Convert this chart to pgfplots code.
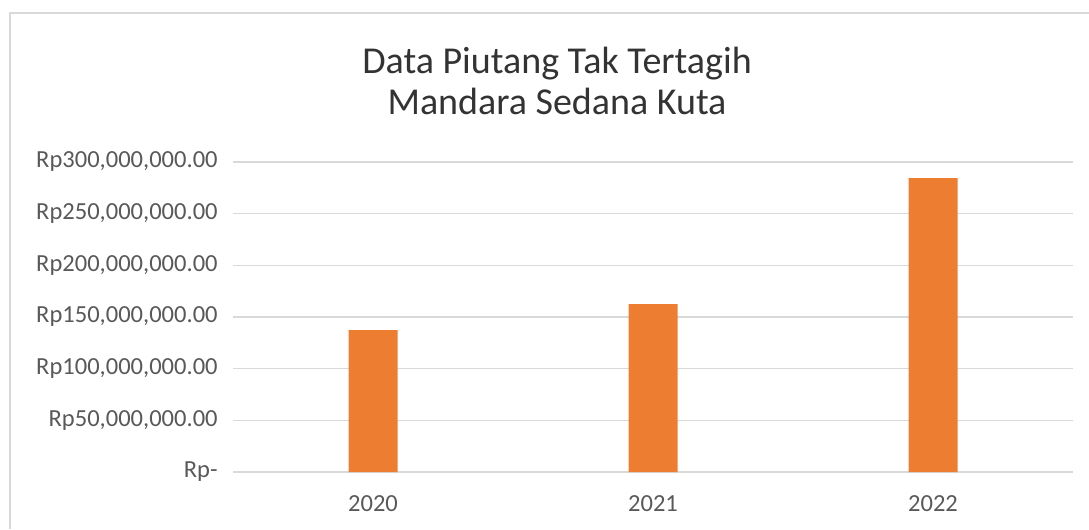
\documentclass[border=0pt]{standalone}
\usepackage{pgfplots}
\pgfplotsset{compat=1.18}
\usepackage{fontspec}
\setmainfont{Carlito}
\definecolor{barorange}{HTML}{ED7D31}
\definecolor{gridgray}{HTML}{D9D9D9}
\definecolor{textgray}{HTML}{595959}
\begin{document}
\begin{tikzpicture}
\useasboundingbox (0,0) rectangle (816.75pt,-396.75pt);
\draw[gridgray, line width=1.2pt] (7.5pt,-396.75pt) -- (7.5pt,-9.75pt) -- (816.75pt,-9.75pt);
\node[anchor=base, font=\fontsize{28.5}{34}\selectfont, text=black!80] at (417.75pt,-54.75pt) {Data Piutang Tak Tertagih};
\node[anchor=base, font=\fontsize{28.5}{34}\selectfont, text=black!80] at (417.75pt,-85.5pt) {Mandara Sedana Kuta};
\begin{axis}[
  at={(174.75pt,-354pt)}, anchor=south west,
  scale only axis, width=630pt, height=232.5pt,
  xmin=-0.5, xmax=2.5, ymin=0, ymax=300000000,
  axis line style={draw=none},
  major tick length=0pt,
  ymajorgrids, grid style={gridgray, line width=0.9pt},
  ytick={0,50000000,100000000,150000000,200000000,250000000,300000000},
  yticklabels={Rp-,Rp50{,}000{,}000.00,Rp100{,}000{,}000.00,Rp150{,}000{,}000.00,Rp200{,}000{,}000.00,Rp250{,}000{,}000.00,Rp300{,}000{,}000.00},
  scaled y ticks=false,
  xtick={0,1,2}, xticklabels={2020,2021,2022},
  ticklabel style={font=\fontsize{18.4}{22}\selectfont, text=textgray},
  yticklabel style={xshift=-8pt},
  xticklabel style={yshift=-14pt},
  clip=false,
]
\addplot[ybar, bar width=36.75pt, fill=barorange, draw=none] coordinates {
  (0,137300000) (1,162400000) (2,284500000)
};
\end{axis}
\end{tikzpicture}
\end{document}
